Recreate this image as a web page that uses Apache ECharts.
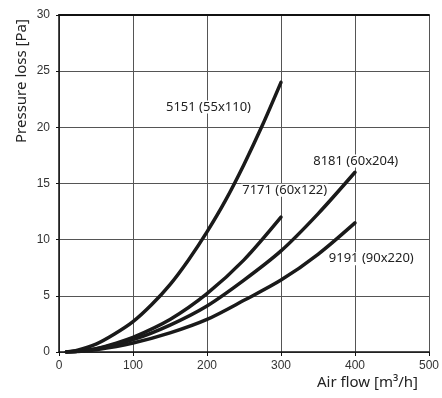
<!DOCTYPE html>
<html><head><meta charset="utf-8">
<script src="https://cdn.jsdelivr.net/npm/echarts@6/dist/echarts.min.js"></script>
<style>html,body{margin:0;padding:0;background:#fff}#c{width:442px;height:398px}</style>
</head><body><div id="c"></div>
<script>
// Air flow [m3/h] and pressure loss [Pa] per product
const flow5151 = [10, 25, 50, 75, 100, 125, 150, 175, 200, 225, 250, 275, 300];
const loss5151 = [0, 0.15, 0.7, 1.6, 2.7, 4.2, 6.0, 8.2, 10.7, 13.5, 16.7, 20.2, 24];
const flow7171 = [10, 25, 50, 75, 100, 150, 200, 250, 300];
const loss7171 = [0, 0.07, 0.3, 0.75, 1.3, 2.9, 5.2, 8.2, 12];
const flow8181 = [10, 25, 50, 100, 150, 200, 250, 300, 350, 400];
const loss8181 = [0, 0.06, 0.28, 1.1, 2.4, 4.1, 6.4, 9.0, 12.3, 16];
const flow9191 = [10, 25, 50, 100, 150, 200, 250, 300, 350, 400];
const loss9191 = [0, 0.05, 0.2, 0.8, 1.7, 2.9, 4.6, 6.4, 8.7, 11.5];
const seriesNames = ['5151 (55x110)', '7171 (60x122)', '8181 (60x204)', '9191 (90x220)'];
// label anchor points (data units)
const labelFlow = [202, 305, 401, 422];
const labelLoss = [21.8, 14.4, 17.0, 8.3];
const xTicks = [0, 100, 200, 300, 400, 500];
const yTicks = [0, 5, 10, 15, 20, 25, 30];

const flows = [flow5151, flow7171, flow8181, flow9191];
const losses = [loss5151, loss7171, loss8181, loss9191];

const chart = echarts.init(document.getElementById('c'), null, {renderer: 'canvas'});
const lineColor = '#1a1a1a';
const gridColor = '#555';
const series = seriesNames.map((name, i) => ({
  name, type: 'line', smooth: 0.3, symbol: 'none',
  lineStyle: {color: lineColor, width: 3.5, cap: 'round'},
  data: flows[i].map((f, j) => [f, losses[i][j]]),
  markPoint: {
    symbol: 'rect', symbolSize: 1, itemStyle: {color: 'rgba(0,0,0,0)'},
    label: {show: true, position: 'inside', formatter: name,
      fontFamily: 'Noto Sans', fontSize: 13, color: '#222',
      backgroundColor: '#fff', padding: [0, 1]},
    data: [{coord: [labelFlow[i], labelLoss[i]]}]
  },
  z: 3
}));

chart.setOption({
  animation: false,
  grid: {left: 59, right: 10, top: 15, bottom: 46},
  xAxis: [{
    type: 'value', min: 0, max: 500, interval: 100,
    axisLine: {show: true, lineStyle: {color: '#111', width: 1.5}},
    axisTick: {show: true, length: 4, lineStyle: {color: '#111'}},
    axisLabel: {fontFamily: 'Liberation Sans', fontSize: 12, color: '#333', margin: 8},
    splitLine: {show: true, lineStyle: {color: gridColor, width: 1}}
  }, {
    type: 'value', position: 'top', min: 0, max: 500, interval: 100,
    axisLine: {show: true, lineStyle: {color: '#111', width: 2}},
    axisTick: {show: false}, axisLabel: {show: false}, splitLine: {show: false}
  }],
  yAxis: {
    type: 'value', min: 0, max: 30, interval: 5,
    axisLine: {show: true, lineStyle: {color: '#111', width: 1.5}},
    axisTick: {show: true, length: 3, lineStyle: {color: '#111'}},
    axisLabel: {fontFamily: 'Liberation Sans', fontSize: 12, color: '#333', margin: 9},
    splitLine: {show: true, lineStyle: {color: gridColor, width: 1}}
  },
  graphic: [
    {type: 'text', left: 317, top: 375,
      style: {text: 'Air flow [m³/h]', font: '15px "Noto Sans"', fill: '#222'}},
    {type: 'text', x: 22, y: 81, rotation: Math.PI / 2,
      style: {text: 'Pressure loss [Pa]', font: '15px "Noto Sans"', fill: '#222',
        align: 'center', verticalAlign: 'middle'}}
  ],
  series
});
</script></body></html>
